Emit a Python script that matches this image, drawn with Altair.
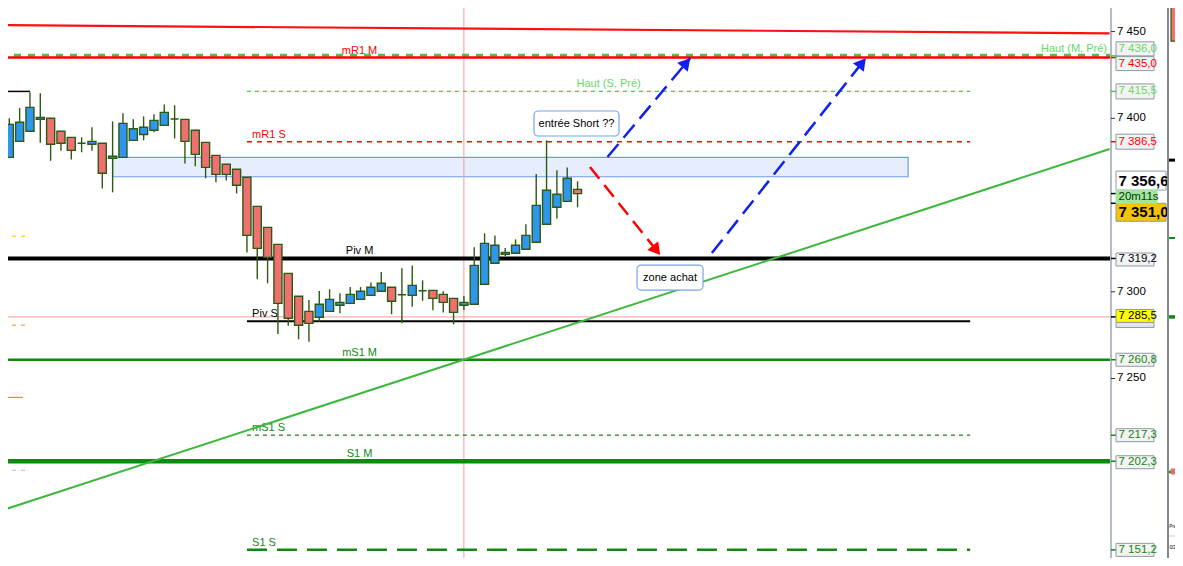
import math
import pandas as pd
import altair as alt

# ---- candles, bar 0 = leftmost (half hidden) bar ----
opens = [7369.2, 7377.5, 7386.7, 7392.5, 7399.4, 7400.0, 7392.5, 7389.0, 7385.6, 7385.0,
         7385.6, 7376.9, 7377.5, 7387.3, 7390.7, 7393.1, 7395.9, 7399.6, 7399.4, 7393.1,
         7386.1, 7378.6, 7373.5, 7370.6, 7366.0, 7349.2, 7337.1, 7327.3, 7310.6, 7297.4,
         7288.7, 7285.3, 7288.7, 7292.2, 7293.3, 7295.6, 7297.9, 7300.3, 7302.6, 7298.3,
         7297.9, 7300.6, 7300.8, 7298.5, 7296.2, 7292.2, 7292.8, 7304.3, 7316.4, 7321.6,
         7322.2, 7324.5, 7328.5, 7338.9, 7348.7, 7352.1, 7359.0]
highs = [7388.6, 7400.0, 7405.9, 7415.0, 7414.4, 7400.0, 7392.5, 7389.0, 7389.0, 7394.8,
         7385.6, 7398.2, 7402.9, 7399.4, 7401.1, 7402.3, 7408.0, 7407.5, 7399.4, 7393.1,
         7386.1, 7378.6, 7373.5, 7370.6, 7366.0, 7349.2, 7337.1, 7327.3, 7310.6, 7297.4,
         7295.2, 7300.4, 7301.4, 7299.1, 7302.7, 7302.7, 7305.4, 7311.4, 7302.6, 7313.5,
         7315.2, 7306.6, 7300.8, 7300.3, 7296.2, 7297.5, 7325.6, 7333.7, 7332.5, 7325.2,
         7330.2, 7338.9, 7367.9, 7387.3, 7370.0, 7371.7, 7363.7]
lows = [7369.2, 7377.5, 7386.7, 7392.5, 7385.9, 7375.5, 7381.3, 7376.3, 7380.4, 7381.3,
        7359.6, 7357.3, 7377.5, 7387.3, 7387.3, 7391.9, 7395.9, 7388.4, 7374.0, 7372.3,
        7365.4, 7363.1, 7364.2, 7356.7, 7322.7, 7307.2, 7304.9, 7275.6, 7280.4, 7272.6,
        7271.2, 7282.7, 7288.7, 7287.6, 7293.3, 7295.6, 7297.9, 7300.3, 7287.0, 7281.8,
        7291.4, 7294.8, 7289.3, 7288.1, 7281.2, 7289.5, 7292.8, 7304.3, 7316.4, 7320.6,
        7322.2, 7324.5, 7328.5, 7338.9, 7342.3, 7352.1, 7348.7]
closes = [7385.6, 7396.5, 7397.7, 7406.3, 7400.5, 7385.0, 7385.6, 7381.5, 7385.6, 7386.7,
          7368.3, 7378.1, 7397.1, 7394.0, 7394.8, 7398.8, 7403.4, 7399.6, 7386.7, 7379.2,
          7371.7, 7367.7, 7367.7, 7361.4, 7332.5, 7325.0, 7319.8, 7293.3, 7284.7, 7280.7,
          7281.8, 7292.8, 7295.6, 7293.9, 7298.5, 7300.3, 7302.6, 7304.9, 7294.5, 7298.3,
          7303.7, 7300.6, 7296.2, 7293.9, 7288.1, 7293.9, 7315.2, 7327.9, 7326.8, 7322.7,
          7326.8, 7332.5, 7349.8, 7358.5, 7356.2, 7365.4, 7356.6]

# ---- monthly levels (whole width) ----
month_names = ["mR1 M", "Piv M", "mS1 M", "S1 M"]
month_prices = [7435.0, 7319.2, 7260.8, 7202.3]
haut_m_name, haut_m_price = "Haut (M, Pré)", 7436.0
last_close_price = 7285.5

# ---- session levels (from bar 24 to bar 94) ----
sess_names = ["Haut (S, Pré)", "mR1 S", "Piv S", "mS1 S", "S1 S"]
sess_prices = [7415.5, 7386.5, 7283.0, 7217.3, 7151.2]
sess_start, sess_end = 24.0, 94.0
prev_high_price, prev_high_end = 7415.5, 3.0

# ---- drawings ----
zone_bars = [11.0, 88.0]
zone_prices = [7366.3, 7377.5]
red_trend_bars, red_trend_prices = [0.1, 107.5], [7453.7, 7449.0]
green_trend_bars, green_trend_prices = [0.1, 107.5], [7173.6, 7382.3]
red_arrow = ([57.2, 64.0], [7371.9, 7321.2])
blue_arrow_1 = ([58.9, 66.9], [7377.7, 7434.7])
blue_arrow_2 = ([69.0, 83.9], [7322.3, 7434.7])
now_bar = 45.0
notes = ["entrée Short ??", "zone achat"]
note_bars = [55.9, 64.95]
note_prices = [7397.0, 7308.2]
left_marks_prices = [7332.0, 7280.7, 7239.1, 7197.1]

# ---- right scale ----
box_values = [7436.0, 7435.0, 7415.5, 7386.5, 7356.6, 7351.0, 7319.2, 7285.5,
              7260.8, 7217.3, 7202.3, 7151.2]
timer_text = "20m11s"
tick_values = [7450, 7400, 7300, 7250]

# ---- next panel (cut at the right edge) ----
side_candle = [7465.3, 7465.3, 7435.9, 7444.5]
side_lines = [7375.9, 7331.0, 7285.5, 7196.1]
side_texts = ["Pré", "03"]

# ---------------------------------------------------------------
# screen of the reference: bar 0.1 at x=0, price 7468.2 at y=0
RX0, RY1 = 0.1, 7468.2
PXB = 1183 / 114.5          # px per bar
PXP = 566 / 326.3           # px per point
FONT = "Liberation Sans"
WICK = "#2d5a12"
BLUE = "#2f96ee"
RED = "#ee7070"
GREEN = "#118811"
LGREEN = "#44cc44"


def bx(px):
    return RX0 + px / PXB


def py(px):
    return RY1 - px / PXP


# the page keeps an 8px margin all round, so the plot shows x 8..1175, y 8..558
W, H = 1167, 550
X0, X1 = bx(8), bx(8 + W)
Y0, Y1 = py(8 + H), py(8)
xs = alt.Scale(domain=[X0, X1], nice=False, zero=False)
ys = alt.Scale(domain=[Y0, Y1], nice=False, zero=False)


def seg(b0, b1, p0, p1, **mark):
    d = pd.DataFrame({"b0": [b0], "b1": [b1], "p0": [p0], "p1": [p1]})
    return alt.Chart(d).mark_rule(**mark).encode(
        x=alt.X("b0:Q", scale=xs, axis=None), x2="b1:Q",
        y=alt.Y("p0:Q", scale=ys, axis=None), y2="p1:Q")


def box(b0, b1, p0, p1, **mark):
    d = pd.DataFrame({"b0": [b0], "b1": [b1], "p0": [p0], "p1": [p1]})
    return alt.Chart(d).mark_rect(**mark).encode(
        x=alt.X("b0:Q", scale=xs, axis=None), x2="b1:Q",
        y=alt.Y("p0:Q", scale=ys, axis=None), y2="p1:Q")


def label(txt, b, p, **mark):
    d = pd.DataFrame({"b": [b], "p": [p], "t": [txt]})
    mark.setdefault("font", FONT)
    mark.setdefault("fontSize", 11)
    return alt.Chart(d).mark_text(**mark).encode(
        x=alt.X("b:Q", scale=xs, axis=None),
        y=alt.Y("p:Q", scale=ys, axis=None), text="t:N")


def arrow(pts, color, dash):
    (b0, b1), (p0, p1) = pts
    d = pd.DataFrame({"b": [b0, b1], "p": [p0, p1]})
    line = alt.Chart(d).mark_line(color=color, strokeWidth=2.5, strokeDash=dash).encode(
        x=alt.X("b:Q", scale=xs, axis=None), y=alt.Y("p:Q", scale=ys, axis=None))
    dx = (b1 - b0) * PXB
    dy = -(p1 - p0) * PXP
    n = math.hypot(dx, dy)
    ang = math.degrees(math.atan2(dx, -dy)) % 360
    hb = b1 - dx / n * 6 / PXB
    hp = p1 + dy / n * 6 / PXP
    hd = pd.DataFrame({"b": [hb], "p": [hp]})
    head = alt.Chart(hd).mark_point(shape="triangle-up", filled=True, size=190,
                                    color=color, opacity=1, angle=ang).encode(
        x=alt.X("b:Q", scale=xs, axis=None), y=alt.Y("p:Q", scale=ys, axis=None))
    return [line, head]


fmt = lambda v: f"{v:,.1f}".replace(",", " ").replace(".", ",")

layers = []

# zone
layers.append(box(zone_bars[0], zone_bars[1], zone_prices[0], zone_prices[1],
                  fill="#e6eefd", stroke="#6b9cf0", strokeWidth=1.2))

# vertical now line
layers.append(seg(now_bar, now_bar, py(0), py(566), color="#f49a9a", strokeWidth=1))

# left edge marks
layers.append(seg(bx(0), prev_high_end, prev_high_price, prev_high_price, color="black", strokeWidth=1.5))
layers.append(seg(bx(3), bx(30), left_marks_prices[0], left_marks_prices[0], color="#f2e21a", strokeWidth=1.5, strokeDash=[4, 5]))
layers.append(seg(bx(3), bx(30), left_marks_prices[1], left_marks_prices[1], color="#f5b060", strokeWidth=1.5, strokeDash=[4, 5]))
layers.append(seg(bx(3), bx(23), left_marks_prices[2], left_marks_prices[2], color="#f08050", strokeWidth=1.2))
layers.append(seg(bx(3), bx(30), left_marks_prices[3], left_marks_prices[3], color="#aab8f5", strokeWidth=1.2, strokeDash=[4, 5]))

# monthly levels
end = bx(1110)
layers.append(seg(bx(0), end, last_close_price, last_close_price, color="#f49a9a", strokeWidth=1))
layers.append(seg(bx(0), end, haut_m_price + 0.3, haut_m_price + 0.3, color="#44c444",
                  strokeWidth=3, strokeDash=[7, 7]))
m_style = [("#ff0000", 2.5), ("black", 4), (GREEN, 2.5), (GREEN, 4.5)]
for name, pr, (c, w) in zip(month_names, month_prices, m_style):
    layers.append(seg(bx(0), end, pr, pr, color=c, strokeWidth=w))
    layers.append(label(name, 34.9, pr, color=c, align="center", dy=-4, baseline="alphabetic"))
layers.append(label(haut_m_name, bx(1107), haut_m_price, color="#66d866", align="right",
                    dy=-4, baseline="alphabetic"))

# session levels
s_style = [(LGREEN, 1.4, [4, 4]), ("#ff0000", 1.4, [5, 5]), ("black", 2.2, []),
           (GREEN, 1.2, [4, 4]), (GREEN, 2.5, [20, 10])]
for name, pr, (c, w, dsh) in zip(sess_names, sess_prices, s_style):
    mk = dict(color=c, strokeWidth=w)
    if dsh:
        mk["strokeDash"] = dsh
    layers.append(seg(sess_start, sess_end, pr, pr, **mk))
    lb = 55.9 if name.startswith("Haut") else 24.5
    layers.append(label(name, lb, pr, color="#66d866" if c == LGREEN else c,
                        align="left", dy=-4, baseline="alphabetic"))

# trend lines
for bars_, prs, c, w in [(red_trend_bars, red_trend_prices, "#ff1010", 2.2),
                         (green_trend_bars, green_trend_prices, "#3cb83c", 2)]:
    d = pd.DataFrame({"b": bars_, "p": prs})
    layers.append(alt.Chart(d).mark_line(color=c, strokeWidth=w).encode(
        x=alt.X("b:Q", scale=xs, axis=None), y=alt.Y("p:Q", scale=ys, axis=None)))

# candles
df = pd.DataFrame({"bar": list(range(len(opens))), "open": opens, "high": highs,
                   "low": lows, "close": closes})
df["b0"] = df["bar"] - 0.39
df["b1"] = df["bar"] + 0.39
layers.append(alt.Chart(df).mark_rule(color=WICK, strokeWidth=1.4).encode(
    x=alt.X("bar:Q", scale=xs, axis=None),
    y=alt.Y("low:Q", scale=ys, axis=None), y2="high:Q"))
layers.append(alt.Chart(df).mark_rect(stroke=WICK, strokeWidth=1.4).encode(
    x=alt.X("b0:Q", scale=xs, axis=None), x2="b1:Q",
    y=alt.Y("open:Q", scale=ys, axis=None), y2="close:Q",
    fill=alt.condition("datum.close >= datum.open", alt.value(BLUE), alt.value(RED))))

# arrows
layers += arrow(red_arrow, "#ff0000", [15, 8])
layers += arrow(blue_arrow_1, "#1020ee", [17, 8])
layers += arrow(blue_arrow_2, "#1020ee", [17, 8])

# notes
for txt, b, p, wpx in zip(notes, note_bars, note_prices, [85, 66]):
    layers.append(box(b - wpx / 2 / PXB, b + wpx / 2 / PXB, p - 12.5 / PXP, p + 12.5 / PXP,
                      fill="white", stroke="#7aa2ea", strokeWidth=1.2, cornerRadius=4))
    layers.append(label(txt, b, p, color="black", align="center", baseline="middle"))

# price scale: axis line, ticks, labels
layers.append(seg(bx(1111), bx(1111), py(0), py(566), color="#9aa5b0", strokeWidth=1.5))
tdf = pd.DataFrame({"v": tick_values, "t": [fmt(v)[:-2] for v in tick_values]})
tdf["b0"], tdf["b1"], tdf["bl"] = bx(1111), bx(1115), bx(1117)
layers.append(alt.Chart(tdf).mark_rule(color="#333333", strokeWidth=1).encode(
    x=alt.X("b0:Q", scale=xs, axis=None), x2="b1:Q", y=alt.Y("v:Q", scale=ys, axis=None)))
layers.append(alt.Chart(tdf).mark_text(font=FONT, fontSize=11.5, align="left",
                                       baseline="middle", color="black").encode(
    x=alt.X("bl:Q", scale=xs, axis=None), y=alt.Y("v:Q", scale=ys, axis=None), text="t:N"))

box_style = {
    7436.0: ("#66d866", "#f3f3f3", -7, 14, False, 1154),
    7435.0: ("#ff0000", "#f3f3f3", 6, 14, False, 1154),
    7415.5: ("#66d866", "#f3f3f3", 0, 15, False, 1154),
    7386.5: ("#ff0000", "#f3f3f3", 0, 15, False, 1154),
    7356.6: ("black", "white", -13, 19, True, 1166),
    7351.0: ("black", "#f5c400", 9, 18, True, 1166),
    7319.2: ("black", "#f3f3f3", 1, 13, False, 1154),
    7285.5: ("black", "#ffff00", -1, 13, False, 1154),
    7260.8: (GREEN, "#f3f3f3", 0, 13, False, 1154),
    7217.3: (GREEN, "#f3f3f3", 0, 13, False, 1154),
    7202.3: (GREEN, "#f3f3f3", 1, 13, False, 1154),
    7151.2: (GREEN, "#f3f3f3", 0, 13, False, 1154),
}
tick_color = {7436.0: LGREEN, 7435.0: "#ff0000", 7415.5: LGREEN, 7386.5: "#ff0000",
              7356.6: "black", 7351.0: "black", 7319.2: "black", 7285.5: "black"}
for v in box_values:
    layers.append(seg(bx(1111), bx(1116), v, v, color=tick_color.get(v, GREEN), strokeWidth=1.5))
for v in box_values:
    c, f, sh, h, bold, right = box_style[v]
    pc = v - sh / PXP
    layers.append(box(bx(1116), bx(right), pc - h / 2 / PXP, pc + h / 2 / PXP,
                      fill=f, stroke="#8e99a4", strokeWidth=1))
    if v == last_close_price:
        layers.append(box(bx(1116), bx(right), pc - h / 2 / PXP - 5 / PXP, pc - h / 2 / PXP,
                          fill="#e4e6e8", stroke="#8e99a4", strokeWidth=1))
    layers.append(label(fmt(v), bx(1118.5), pc, color=c, align="left", baseline="middle",
                        fontSize=15 if bold else 11.5, fontWeight="bold" if bold else "normal"))
tp = py(197)
layers.append(box(bx(1116), bx(1157), tp - 6.3 / PXP, tp + 6.3 / PXP,
                  fill="#9ee89a", stroke="#9ee89a", strokeWidth=1))
layers.append(label(timer_text, bx(1118.5), tp, color="#113311", align="left",
                    baseline="middle", fontSize=11.5))

# next panel, only its left edge is in view
layers.append(seg(bx(1168), bx(1168), py(0), py(566), color="#7f8a94", strokeWidth=2))
layers.append(seg(bx(1177.5), bx(1177.5), side_candle[3], side_candle[2], color=WICK, strokeWidth=1.3))
layers.append(box(bx(1171), bx(1186), side_candle[3], side_candle[0], fill=RED, stroke=WICK, strokeWidth=1.2))
for pr, c, w in zip(side_lines, ["black", GREEN, GREEN, GREEN], [3, 2, 3.5, 2.5]):
    layers.append(seg(bx(1169), X1, pr, pr, color=c, strokeWidth=w))
layers.append(box(bx(1171), bx(1176), side_lines[3] - 2 / PXP, side_lines[3] + 3 / PXP,
                  fill="#e07070", stroke="#e07070"))
layers.append(label(side_texts[0], bx(1169.2), py(527), color="black", align="left",
                    baseline="middle", fontSize=4.5))
layers.append(seg(bx(1169), X1, py(536), py(536), color="#c8cdd2", strokeWidth=1))
layers.append(label(side_texts[1], bx(1169.5), py(547), color="black", align="left",
                    baseline="middle", fontSize=6))

chart = alt.layer(*layers).properties(
    width=W, height=H,
    autosize=alt.AutoSizeParams(type="none"),
    padding=0,
    background="white",
).configure_view(strokeWidth=0)

chart.save("out.html", embed_options={"renderer": "svg", "actions": False})
